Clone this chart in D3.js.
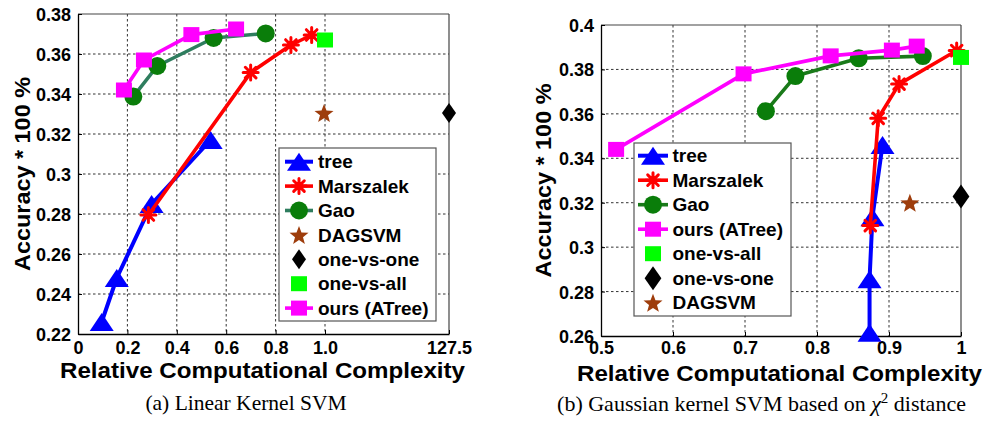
<!DOCTYPE html>
<html><head><meta charset="utf-8">
<script src="https://cdn.jsdelivr.net/npm/d3@7"></script>
<style>
html,body{margin:0;padding:0;background:#fff;}
svg{display:block;}
text{font-family:"Liberation Sans",Arial,sans-serif;font-weight:bold;fill:#000;}
.cap{font-family:"Liberation Serif","Times New Roman",serif;font-weight:normal;}
</style></head>
<body>
<svg id="c" width="987" height="424"></svg>
<script>
// ---------- Data: panel (a) Linear Kernel SVM ----------
const aXTicks = [0, 0.2, 0.4, 0.6, 0.8, 1.0, 127.5];
const aXTickLabels = ["0", "0.2", "0.4", "0.6", "0.8", "1.0", "127.5"];
const aYTicks = [0.22, 0.24, 0.26, 0.28, 0.3, 0.32, 0.34, 0.36, 0.38];
const aYTickLabels = ["0.22", "0.24", "0.26", "0.28", "0.3", "0.32", "0.34", "0.36", "0.38"];
const aTreeX = [0.096, 0.157, 0.298, 0.537];
const aTreeY = [0.226, 0.248, 0.285, 0.317];
const aMarsX = [0.285, 0.699, 0.862, 0.946];
const aMarsY = [0.2795, 0.3507, 0.3645, 0.3695];
const aGaoX = [0.224, 0.321, 0.549, 0.760];
const aGaoY = [0.3387, 0.354, 0.368, 0.3703];
const aDagX = [0.996];
const aDagY = [0.3305];
const aOvoX = [127.5];
const aOvoY = [0.3305];
const aOvaX = [1.0];
const aOvaY = [0.367];
const aOursX = [0.186, 0.267, 0.459, 0.640];
const aOursY = [0.342, 0.357, 0.3697, 0.3725];
const aLegend = ["tree", "Marszalek", "Gao", "DAGSVM", "one-vs-one", "one-vs-all", "ours (ATree)"];

// ---------- Data: panel (b) Gaussian kernel SVM ----------
const bXTicks = [0.5, 0.6, 0.7, 0.8, 0.9, 1];
const bXTickLabels = ["0.5", "0.6", "0.7", "0.8", "0.9", "1"];
const bYTicks = [0.26, 0.28, 0.3, 0.32, 0.34, 0.36, 0.38, 0.4];
const bYTickLabels = ["0.26", "0.28", "0.3", "0.32", "0.34", "0.36", "0.38", "0.4"];
const bTreeX = [0.873, 0.873, 0.877, 0.891];
const bTreeY = [0.2615, 0.2856, 0.3135, 0.346];
const bMarsX = [0.874, 0.885, 0.914, 0.994];
const bMarsY = [0.3097, 0.358, 0.3734, 0.3885];
const bGaoX = [0.729, 0.770, 0.858, 0.947];
const bGaoY = [0.3612, 0.377, 0.385, 0.386];
const bOursX = [0.521, 0.698, 0.819, 0.904, 0.9385];
const bOursY = [0.344, 0.378, 0.3861, 0.3887, 0.3905];
const bOvaX = [1.0];
const bOvaY = [0.3854];
const bOvoX = [1.0];
const bOvoY = [0.3228];
const bDagX = [0.929];
const bDagY = [0.320];
const bLegend = ["tree", "Marszalek", "Gao", "ours (ATree)", "one-vs-all", "one-vs-one", "DAGSVM"];

const captions = ["(a) Linear Kernel SVM", "(b) Gaussian kernel SVM based on "];

// ---------- styles ----------
const COL = {tree:"#0000ff", mars:"#ff0000", gaoM:"#0a7d0a", gaoL:"#2e7d5e", gaoL2:"#1a7a1a", ours:"#ff00ff", ova:"#00ff00", ovo:"#000000", dag:"#9e3d0c"};

function zip(xs, ys){ return xs.map((x,i)=>[x, ys[i]]); }

function markerPath(type, s){
  s = s || 1;
  if(type==="tri"){ return `M0,${-9*s}L${12*s},${9*s}L${-12*s},${9*s}Z`; }
  if(type==="sq"){ return `M${-8*s},${-7.5*s}H${8*s}V${7.5*s}H${-8*s}Z`; }
  if(type==="ast"){ const a=7.5*s, b=5.3*s; return `M${-a},0H${a}M0,${-a}V${a}M${-b},${-b}L${b},${b}M${-b},${b}L${b},${-b}`; }
  if(type==="dia"){ return `M0,${-10*s}L${7*s},0L0,${10*s}L${-7*s},0Z`; }
  if(type==="star"){
    let p=""; const R=10*s, r=4.2*s;
    for(let i=0;i<10;i++){ const ang=-Math.PI/2 + i*Math.PI/5; const rr = i%2===0?R:r;
      p += (i===0?"M":"L") + (rr*Math.cos(ang)).toFixed(2) + "," + (rr*Math.sin(ang)+1).toFixed(2); }
    return p+"Z";
  }
  return "";
}

function drawMarker(g, type, color, x, y, s){
  if(type==="circ"){
    g.append("circle").attr("cx",x).attr("cy",y).attr("r",9*(s||1)).attr("fill",color);
  } else if(type==="ast"){
    g.append("path").attr("d",markerPath(type,s)).attr("transform",`translate(${x},${y})`)
      .attr("stroke",color).attr("stroke-width",3).attr("fill","none").attr("stroke-linecap","round");
    g.append("circle").attr("cx",x).attr("cy",y).attr("r",3.5*(s||1)).attr("fill",color);
  } else {
    g.append("path").attr("d",markerPath(type,s)).attr("transform",`translate(${x},${y})`).attr("fill",color);
  }
}

const svg = d3.select("#c");

function panel(cfg){
  const g = svg.append("g");
  const x = cfg.x, y = cfg.y;
  const [x0,x1] = [cfg.left, cfg.right], [yb,yt] = [cfg.bottom, cfg.top];
  g.append("rect").attr("x",x0).attr("y",yt).attr("width",x1-x0).attr("height",yb-yt).attr("fill","#fff");
  const grid = g.append("g").attr("stroke","#333").attr("stroke-width",1).attr("stroke-dasharray","2.5,2.5");
  cfg.xTicks.forEach(t=>{ const px=x(t); if(px>x0+1 && px<x1-1) grid.append("line").attr("x1",px).attr("x2",px).attr("y1",yt).attr("y2",yb); });
  cfg.yTicks.forEach(t=>{ const py=y(t); if(py>yt+1 && py<yb-1) grid.append("line").attr("y1",py).attr("y2",py).attr("x1",x0).attr("x2",x1); });
  g.append("line").attr("x1",x0).attr("x2",x1).attr("y1",yt).attr("y2",yt).attr("stroke","#444").attr("stroke-width",1.2);
  g.append("line").attr("x1",x1).attr("x2",x1).attr("y1",yt).attr("y2",yb).attr("stroke","#444").attr("stroke-width",1.2);
  const xAxis = d3.axisBottom(x).tickValues(cfg.xTicks).tickFormat((d,i)=>cfg.xTickLabels[i]).tickSizeInner(-4).tickSizeOuter(0).tickPadding(10);
  const yAxis = d3.axisLeft(y).tickValues(cfg.yTicks).tickFormat((d,i)=>cfg.yTickLabels[i]).tickSizeInner(-4).tickSizeOuter(0).tickPadding(7);
  const gx = g.append("g").attr("transform",`translate(0,${yb})`).call(xAxis);
  const gy = g.append("g").attr("transform",`translate(${x0},0)`).call(yAxis);
  [gx,gy].forEach(a=>{ a.select(".domain").attr("stroke","#000").attr("stroke-width",1.3);
    a.selectAll(".tick line").attr("stroke","#000");
    a.selectAll("text").attr("font-size",18).attr("font-family","'Liberation Sans',Arial,sans-serif").attr("font-weight","bold").attr("fill","#000"); });
  gx.selectAll("text").attr("dy",null).attr("y",null).attr("transform",null)
    .attr("y", cfg.xLabelBase - yb);
  gy.selectAll("text").attr("dy","0.36em");

  const line = d3.line().x(d=>x(d[0])).y(d=>y(d[1]));
  const m = g.append("g");
  cfg.series.forEach(s=>{
    const pts = zip(s.xs, s.ys);
    if(s.line) m.append("path").attr("d",line(pts)).attr("fill","none").attr("stroke",s.lineColor||s.color).attr("stroke-width",s.lw||3.6).attr("stroke-linejoin","round");
    pts.forEach(p=>drawMarker(m, s.marker, s.color, x(p[0]), y(p[1]), s.ms));
  });

  const L = cfg.legend;
  const lg = g.append("g");
  lg.append("rect").attr("x",L.x).attr("y",L.y).attr("width",L.w).attr("height",L.h).attr("fill","#fff").attr("stroke","#555").attr("stroke-width",1.2);
  cfg.legendNames.forEach((name,i)=>{
    const s = cfg.series.find(q=>q.name===name);
    const cy = L.first + i*L.step;
    if(s.line) lg.append("line").attr("x1",L.lx0).attr("x2",L.lx1).attr("y1",cy).attr("y2",cy).attr("stroke",s.lineColor||s.color).attr("stroke-width",s.lw||3.6);
    drawMarker(lg, s.marker, s.color, (L.lx0+L.lx1)/2, cy, s.ms);
    lg.append("text").attr("x",L.tx).attr("y",cy).attr("dy","0.35em").attr("font-size",19).text(name);
  });

  g.append("text").attr("x",cfg.xTitleX).attr("y",cfg.xTitleBase).attr("text-anchor","middle").attr("font-size",22)
    .attr("textLength",405).attr("lengthAdjust","spacingAndGlyphs").text("Relative Computational Complexity");
  g.append("text").attr("transform",`translate(${cfg.yTitleX},${(yt+yb)/2}) rotate(-90)`).attr("text-anchor","middle").attr("font-size",22.5)
    .attr("textLength",194).attr("lengthAdjust","spacingAndGlyphs").text("Accuracy * 100 %");
}

// ---------- panel (a) ----------
const aLeft=78, aRight=449, aTop=14, aBottom=334;
const ax = d3.scaleLinear().domain([0, 1, 127.5]).range([aLeft, 325, aRight]);
const ay = d3.scaleLinear().domain([0.22, 0.38]).range([aBottom, aTop]);
panel({
  x:ax, y:ay, left:aLeft, right:aRight, top:aTop, bottom:aBottom,
  xTicks:aXTicks, xTickLabels:aXTickLabels, yTicks:aYTicks, yTickLabels:aYTickLabels,
  xLabelBase:354, xTitleBase:378, xTitleX:262.5, yTitleX:29.5,
  series:[
    {name:"tree", xs:aTreeX, ys:aTreeY, color:COL.tree, marker:"tri", line:true, lw:4},
    {name:"Marszalek", xs:aMarsX, ys:aMarsY, color:COL.mars, marker:"ast", line:true},
    {name:"Gao", xs:aGaoX, ys:aGaoY, color:COL.gaoM, lineColor:COL.gaoL, marker:"circ", line:true},
    {name:"DAGSVM", xs:aDagX, ys:aDagY, color:COL.dag, marker:"star"},
    {name:"one-vs-one", xs:aOvoX, ys:aOvoY, color:COL.ovo, marker:"dia"},
    {name:"one-vs-all", xs:aOvaX, ys:aOvaY, color:COL.ova, marker:"sq"},
    {name:"ours (ATree)", xs:aOursX, ys:aOursY, color:COL.ours, marker:"sq", line:true}
  ],
  legendNames:aLegend,
  legend:{x:279, y:148, w:157, h:173, first:161.7, step:24.4, lx0:285, lx1:313, tx:318}
});

// ---------- panel (b) ----------
const bLeft=601, bRight=961, bTop=25, bBottom=336;
const bx = d3.scaleLinear().domain([0.5, 1]).range([bLeft, bRight]);
const by = d3.scaleLinear().domain([0.26, 0.4]).range([bBottom, bTop]);
panel({
  x:bx, y:by, left:bLeft, right:bRight, top:bTop, bottom:bBottom,
  xTicks:bXTicks, xTickLabels:bXTickLabels, yTicks:bYTicks, yTickLabels:bYTickLabels,
  xLabelBase:354, xTitleBase:380.5, xTitleX:779.5, yTitleX:551,
  series:[
    {name:"tree", xs:bTreeX, ys:bTreeY, color:COL.tree, marker:"tri", line:true, lw:4},
    {name:"Marszalek", xs:bMarsX, ys:bMarsY, color:COL.mars, marker:"ast", line:true},
    {name:"Gao", xs:bGaoX, ys:bGaoY, color:COL.gaoM, lineColor:COL.gaoL2, marker:"circ", line:true},
    {name:"ours (ATree)", xs:bOursX, ys:bOursY, color:COL.ours, marker:"sq", line:true},
    {name:"one-vs-all", xs:bOvaX, ys:bOvaY, color:COL.ova, marker:"sq"},
    {name:"one-vs-one", xs:bOvoX, ys:bOvoY, color:COL.ovo, marker:"dia", ms:1.2},
    {name:"DAGSVM", xs:bDagX, ys:bDagY, color:COL.dag, marker:"star"}
  ],
  legendNames:bLegend,
  legend:{x:634, y:143, w:157, h:173, first:155.7, step:24.5, lx0:638, lx1:668, tx:672.5}
});

// ---------- captions ----------
svg.append("text").attr("class","cap").attr("x",246).attr("y",410).attr("text-anchor","middle").attr("font-size",21.5).text(captions[0]);
const cb = svg.append("text").attr("class","cap").attr("x",761.5).attr("y",411).attr("text-anchor","middle").attr("font-size",22);
cb.append("tspan").text(captions[1]);
cb.append("tspan").attr("font-style","italic").text("χ");
cb.append("tspan").attr("dy",-8).attr("font-size",15).text("2");
cb.append("tspan").attr("dy",8).text(" distance");
</script>
</body></html>
